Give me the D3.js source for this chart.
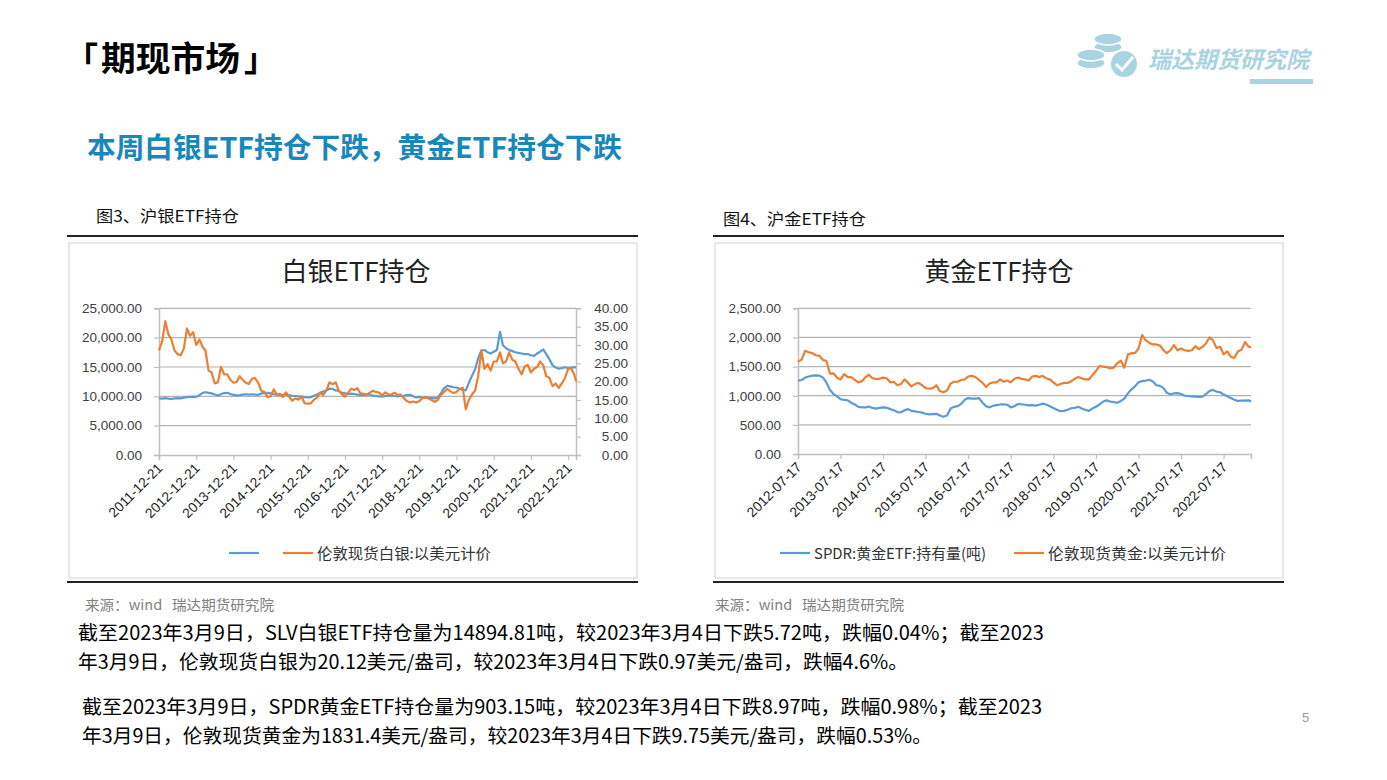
<!DOCTYPE html>
<html><head><meta charset="utf-8">
<script src="https://cdn.jsdelivr.net/npm/d3@7"></script>
<style>
body{margin:0;background:#fff;}
svg{display:block;font-family:"Liberation Sans","Noto Sans CJK SC",sans-serif;}
text{white-space:pre;}
</style>
</head><body>
<svg id="c" width="1387" height="780"></svg>
<script>
// ---------- DATA ----------
const silverStart = "2011-12-21", silverLast = "2023-03-09";
// SLV silver ETF holdings (tonnes), monthly
const silverEtf = [
  9650,
  9600,9700,9600,9550,9650,9700,9650,9750,9850,9900,9950,9900,            // 2012
  10200,10600,10700,10600,10500,10300,10150,10350,10550,10600,10400,10250, // 2013
  10150,10200,10300,10350,10300,10350,10300,10250,10500,10550,10600,10500, // 2014
  10350,10300,10200,10250,10300,10200,10100,10050,10000,9950,9850,9800,    // 2015
  9850,10100,10300,10600,10800,11000,11300,11250,11000,10900,10600,10500,  // 2016
  10400,10450,10400,10300,10250,10200,10350,10300,10100,10100,10000,9950,  // 2017
  10050,10100,10100,10050,10000,10050,10100,10200,10250,10000,9800,9900,   // 2018
  9750,9800,9750,9700,9650,9800,10500,11400,11800,11700,11550,11500,       // 2019
  11300,11100,11000,12300,13500,14600,16500,17800,17900,17500,17300,17600, // 2020
  17900,21000,18700,18200,17900,17700,17500,17400,17300,17200,17200,17000, // 2021
  16900,17300,17600,18000,17200,16300,15300,14900,14700,14800,14950,14800, // 2022
  14900,14950,14895                                                        // 2023
];
// London spot silver (USD/oz), monthly
const silverPrice = [
  28.5,
  31.0,36.5,33.0,31.5,28.5,27.5,27.2,29.0,34.5,32.5,33.5,30.0,   // 2012
  31.5,29.5,28.5,23.0,22.5,19.5,19.8,24.0,22.0,22.0,20.5,19.7,   // 2013
  19.9,21.5,20.5,19.7,19.4,20.8,21.0,19.7,17.5,17.2,15.8,16.0,   // 2014
  17.9,16.4,16.7,15.8,17.1,15.9,14.8,15.4,15.1,15.9,14.1,14.0,   // 2015
  14.1,15.1,15.6,17.0,16.3,17.6,19.8,19.3,19.8,17.5,16.6,15.9,   // 2016
  17.0,18.1,17.7,18.2,16.8,16.7,16.3,17.0,17.5,17.2,17.0,16.2,   // 2017
  17.1,16.5,16.5,17.0,16.4,16.5,15.5,14.7,14.3,14.6,14.3,14.7,   // 2018
  15.5,15.8,15.4,15.0,14.5,15.0,16.4,17.2,18.0,17.4,16.9,17.2,   // 2019
  18.0,18.3,12.5,15.0,16.5,17.6,21.5,28.5,23.5,24.8,23.0,25.5,   // 2020
  25.5,28.0,25.0,25.5,28.0,26.0,25.5,23.5,22.0,24.2,24.5,22.5,   // 2021
  23.5,24.0,25.5,24.5,21.5,21.0,18.8,19.5,18.3,19.5,21.0,23.5,   // 2022
  23.7,21.8,20.12                                               // 2023
];
const silverTicks = ["2011-12-21","2012-12-21","2013-12-21","2014-12-21","2015-12-21","2016-12-21",
  "2017-12-21","2018-12-21","2019-12-21","2020-12-21","2021-12-21","2022-12-21"];
const silverLeftTicks = [0,5000,10000,15000,20000,25000];
const silverRightTicks = [0,5,10,15,20,25,30,35,40];

const goldStart = "2012-07-17", goldLast = "2023-03-09";
// SPDR gold ETF holdings (tonnes), monthly
const goldEtf = [
  1260,1270,1310,1330,1345,1350,                                // 2012 H2
  1345,1310,1230,1100,1030,990,940,930,920,880,850,810,         // 2013
  800,800,815,790,780,790,800,795,770,750,720,715,              // 2014
  750,770,740,730,720,710,690,680,685,690,660,640,              // 2015
  660,780,810,820,860,930,960,950,950,960,880,820,              // 2016
  800,830,840,850,850,845,800,820,860,850,845,835,              // 2017
  840,830,845,865,850,820,790,760,735,740,760,785,              // 2018
  790,810,780,760,740,780,810,850,900,920,900,890,              // 2019
  880,910,950,1040,1110,1160,1230,1250,1260,1275,1245,1180,     // 2020
  1170,1130,1050,1025,1040,1045,1030,1000,995,990,985,980,      // 2021
  985,1030,1080,1100,1070,1060,1020,990,960,930,910,915,        // 2022
  915,920,903.15                                                // 2023
];
// London spot gold (USD/oz), monthly
const goldPrice = [
  1580,1620,1770,1745,1730,1695,                                // 2012 H2
  1685,1610,1600,1380,1385,1310,1280,1370,1320,1320,1270,1230,  // 2013
  1250,1320,1360,1300,1290,1290,1310,1300,1230,1240,1180,1200,  // 2014
  1280,1220,1160,1200,1220,1180,1130,1120,1130,1180,1080,1060,  // 2015
  1090,1210,1240,1240,1270,1280,1330,1340,1320,1270,1220,1150,  // 2016
  1210,1230,1230,1280,1240,1260,1230,1290,1310,1290,1280,1260,  // 2017
  1330,1340,1320,1340,1300,1280,1230,1180,1200,1220,1220,1250,  // 2018
  1290,1320,1300,1280,1280,1350,1420,1510,1500,1490,1470,1480,  // 2019
  1560,1600,1480,1710,1730,1730,1810,2040,1950,1910,1880,1880,  // 2020
  1860,1780,1730,1780,1870,1780,1810,1780,1770,1780,1850,1800,  // 2021
  1840,1900,2000,1950,1820,1840,1710,1760,1670,1650,1760,1790,  // 2022
  1920,1840,1831.4                                              // 2023
];
const goldTicks = ["2012-07-17","2013-07-17","2014-07-17","2015-07-17","2016-07-17","2017-07-17",
  "2018-07-17","2019-07-17","2020-07-17","2021-07-17","2022-07-17"];
const goldLeftTicks = [0,500,1000,1500,2000,2500];

const bodyLines = [
  "截至2023年3月9日，SLV白银ETF持仓量为14894.81吨，较2023年3月4日下跌5.72吨，跌幅0.04%；截至2023",
  "年3月9日，伦敦现货白银为20.12美元/盎司，较2023年3月4日下跌0.97美元/盎司，跌幅4.6%。",
  "截至2023年3月9日，SPDR黄金ETF持仓量为903.15吨，较2023年3月4日下跌8.97吨，跌幅0.98%；截至2023",
  "年3月9日，伦敦现货黄金为1831.4美元/盎司，较2023年3月4日下跌9.75美元/盎司，跌幅0.53%。"
];

// ---------- DRAW ----------
const svg = d3.select("#c");
const parse = d3.timeParse("%Y-%m-%d");
const fmt = d3.timeFormat("%Y-%m-%d");
const BLUE = "#5b9bd5", ORANGE = "#ed7d31", GRID = "#b3b3b3", AXIS = "#bfbfbf", LBL = "#404040";
const CJK = '"Noto Sans CJK SC","Noto Sans",sans-serif';

function datesFor(start, last, n){
  const s = parse(start);
  return d3.range(n).map(i => i === n-1 ? parse(last) : d3.timeMonth.offset(s, i));
}

// header
const hdr = svg.append("g").attr("font-family",CJK).attr("font-weight",700).attr("fill","#000");
hdr.append("text").attr("x",65).attr("y",71).attr("font-size",33).text("「");
hdr.append("text").attr("x",101).attr("y",71).attr("font-size",34).attr("textLength",139)
  .attr("lengthAdjust","spacingAndGlyphs").text("期现市场");
hdr.append("text").attr("x",244).attr("y",71).attr("font-size",33).text("」");
svg.append("text").attr("x",87).attr("y",158).attr("font-family",CJK).attr("font-weight",700)
  .attr("font-size",28).attr("fill","#1a87ba").attr("textLength",535).attr("lengthAdjust","spacingAndGlyphs")
  .text("本周白银ETF持仓下跌，黄金ETF持仓下跌");

// logo
const logo = svg.append("g").attr("fill","#a9d3e2");
[[1108,47],[1108,39],[1091,63],[1091,55]].forEach(([cx,cy])=>{
  logo.append("ellipse").attr("cx",cx).attr("cy",cy).attr("rx",14).attr("ry",6).attr("stroke","#fff").attr("stroke-width",1.5);
});
logo.append("circle").attr("cx",1124).attr("cy",64).attr("r",14).attr("stroke","#fff").attr("stroke-width",2);
svg.append("path").attr("d","M1116,64 L1122,70 L1133,57").attr("fill","none").attr("stroke","#fff").attr("stroke-width",3);
svg.append("text").attr("x",1148).attr("y",68).attr("font-family",CJK).attr("font-weight",700)
  .attr("font-style","italic").attr("font-size",23).attr("fill","#a9d3e2").attr("textLength",161)
  .attr("lengthAdjust","spacingAndGlyphs").text("瑞达期货研究院");
svg.append("rect").attr("x",1250).attr("y",79).attr("width",63).attr("height",5).attr("fill","#a9d3e2");

function drawChart(c){
  // frames
  svg.append("line").attr("x1",c.fx0-2).attr("x2",c.fx1+1).attr("y1",236).attr("y2",236).attr("stroke","#222").attr("stroke-width",2);
  svg.append("line").attr("x1",c.fx0-2).attr("x2",c.fx1+1).attr("y1",582).attr("y2",582).attr("stroke","#222").attr("stroke-width",2);
  svg.append("rect").attr("x",c.fx0).attr("y",243).attr("width",c.fx1-c.fx0).attr("height",335)
    .attr("fill","#fff").attr("stroke","#d9d9d9").attr("stroke-width",1.2);
  svg.append("text").attr("x",c.capX).attr("y",c.capY).attr("font-family",CJK).attr("font-size",16).attr("fill","#111")
    .attr("textLength",143).attr("lengthAdjust","spacingAndGlyphs").text(c.caption);
  svg.append("text").attr("x",c.srcX).attr("y",610).attr("font-family",CJK).attr("font-size",14).attr("fill","#808080")
    .attr("textLength",189).attr("lengthAdjust","spacingAndGlyphs").text("来源：wind   瑞达期货研究院");
  svg.append("text").attr("x",c.titleX).attr("y",281).attr("text-anchor","middle").attr("font-family",CJK)
    .attr("font-size",26).attr("fill","#222").text(c.title);

  const dates = datesFor(c.start, c.last, c.etf.length);
  const x = d3.scaleTime().domain([parse(c.start), parse(c.last)]).range([c.x0, c.x1]);
  const y = d3.scaleLinear().domain([0, c.yMax]).range([c.yb, c.yt]);
  const y2 = c.y2Max ? d3.scaleLinear().domain([0, c.y2Max]).range([c.yb, c.yt]) : y;

  // grid
  svg.append("g").selectAll("line").data(c.leftTicks.filter(d=>d>0)).join("line")
    .attr("x1",c.x0).attr("x2",c.x1).attr("y1",d=>y(d)).attr("y2",d=>y(d))
    .attr("stroke",GRID).attr("stroke-width",1.2);

  // left axis
  const ga = svg.append("g").attr("transform",`translate(${c.x0},0)`)
    .call(d3.axisLeft(y).tickValues(c.leftTicks).tickFormat(d3.format(",.2f")).tickSize(5).tickPadding(12));
  ga.select(".domain").attr("stroke",AXIS).attr("stroke-width",1.5);
  ga.selectAll(".tick line").attr("stroke",AXIS).attr("stroke-width",1.2);
  ga.selectAll("text").attr("font-size",13.5).attr("fill",LBL).attr("font-family","Liberation Sans");

  if (c.y2Max){
    const gr = svg.append("g").attr("transform",`translate(${c.x1},0)`)
      .call(d3.axisRight(y2).tickValues(c.rightTicks).tickFormat(d3.format(".2f")).tickSize(5).tickPadding(0));
    gr.select(".domain").attr("stroke",AXIS).attr("stroke-width",1.5);
    gr.selectAll(".tick line").attr("stroke",AXIS).attr("stroke-width",1.2);
    gr.selectAll("text").attr("font-size",13.5).attr("fill",LBL).attr("font-family","Liberation Sans")
      .attr("text-anchor","end").attr("x",52);
  }

  // bottom axis
  const gb = svg.append("g").attr("transform",`translate(0,${c.yb})`)
    .call(d3.axisBottom(x).tickValues(c.ticks.map(parse)).tickFormat(fmt).tickSize(5));
  gb.select(".domain").attr("stroke",AXIS).attr("stroke-width",1.5);
  gb.selectAll(".tick line").attr("stroke",AXIS).attr("stroke-width",1.2);
  gb.selectAll("text").attr("font-size",13.8).attr("fill","#1a1a1a").attr("font-family","Liberation Sans")
    .attr("text-anchor","end").attr("dy",null).attr("x",4).attr("y",14).attr("transform","rotate(-45,4,14)");

  // lines
  const lineL = d3.line().x((d,i)=>x(dates[i])).y(d=>y(d));
  const lineR = d3.line().x((d,i)=>x(dates[i])).y(d=>y2(d));
  svg.append("path").datum(c.etf).attr("d",lineL).attr("fill","none").attr("stroke",BLUE).attr("stroke-width",2.2).attr("stroke-linejoin","round");
  svg.append("path").datum(c.price).attr("d",lineR).attr("fill","none").attr("stroke",ORANGE).attr("stroke-width",2.2).attr("stroke-linejoin","round");

  // legend
  const ly = 553;
  c.legend.forEach(l=>{
    svg.append("line").attr("x1",l.x).attr("x2",l.x+30).attr("y1",ly).attr("y2",ly).attr("stroke",l.color).attr("stroke-width",2.2);
    if (l.text) svg.append("text").attr("x",l.x+34).attr("y",ly+5.5).attr("font-family",CJK).attr("font-size",15)
      .attr("fill","#333").attr("textLength",l.w).attr("lengthAdjust","spacingAndGlyphs").text(l.text);
  });
}

drawChart({
  fx0:69, fx1:637, caption:"图3、沪银ETF持仓", capX:96, capY:222, srcX:85,
  title:"白银ETF持仓", titleX:356,
  start:silverStart, last:silverLast, etf:silverEtf, price:silverPrice,
  x0:159, x1:576, yb:455, yt:308.3, yMax:25000, y2Max:40,
  leftTicks:silverLeftTicks, rightTicks:silverRightTicks, ticks:silverTicks,
  legend:[{x:229,color:BLUE,text:""},{x:283,color:ORANGE,text:"伦敦现货白银:以美元计价",w:174}]
});
drawChart({
  fx0:715, fx1:1283, caption:"图4、沪金ETF持仓", capX:723, capY:225, srcX:715,
  title:"黄金ETF持仓", titleX:999,
  start:goldStart, last:goldLast, etf:goldEtf, price:goldPrice,
  x0:798, x1:1251, yb:454, yt:308.3, yMax:2500, y2Max:null,
  leftTicks:goldLeftTicks, ticks:goldTicks,
  legend:[{x:780,color:BLUE,text:"SPDR:黄金ETF:持有量(吨)",w:172},{x:1014,color:ORANGE,text:"伦敦现货黄金:以美元计价",w:178}]
});

// body text
const bodyPos = [[78,640,966],[78,669,830],[82,714,960],[82,743,850]];
bodyLines.forEach((t,i)=>{
  const [bx,by,bw] = bodyPos[i];
  svg.append("text").attr("x",bx).attr("y",by).attr("font-family",CJK).attr("font-size",19.5)
    .attr("fill","#000").attr("textLength",bw).attr("lengthAdjust","spacingAndGlyphs").text(t);
});
svg.append("text").attr("x",1302).attr("y",722).attr("font-size",13).attr("fill","#999").text("5");
</script>
</body></html>
